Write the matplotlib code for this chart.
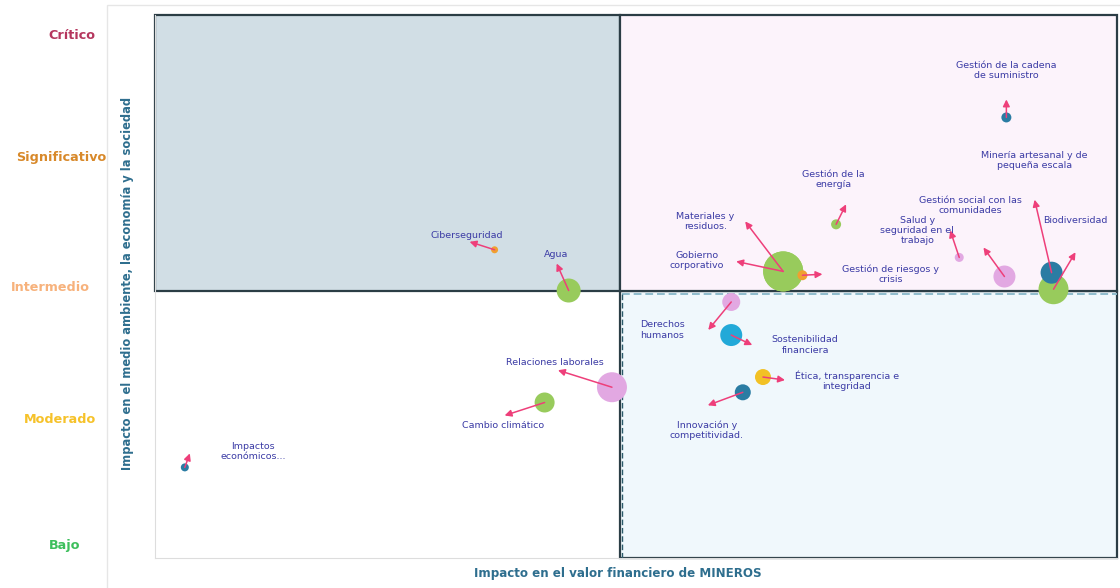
import numpy as np
import matplotlib.pyplot as plt
from matplotlib.patches import Rectangle
from matplotlib.transforms import blended_transform_factory

# materiality matrix data
temas = ['Impactos\neconómicos...', 'Ciberseguridad', 'Agua', 'Relaciones laborales',
         'Cambio climático', 'Derechos\nhumanos', 'Sostenibilidad\nfinanciera',
         'Ética, transparencia e\nintegridad', 'Innovación y\ncompetitividad.',
         'Materiales y\nresiduos.', 'Gobierno\ncorporativo', 'Gestión de riesgos y\ncrisis',
         'Gestión de la\nenergía', 'Salud y\nseguridad en el\ntrabajo',
         'Gestión social con las\ncomunidades', 'Minería artesanal y de\npequeña escala',
         'Biodiversidad', 'Gestión de la cadena\nde suministro']
impacto_financiero = [0.31, 3.53, 4.30, 4.75, 4.05, 5.99, 5.99, 6.32, 6.11,
                      6.53, 6.53, 6.73, 7.08, 8.36, 8.83, 9.32, 9.34, 8.85]
impacto_esg = [1.61, 3.32, 3.00, 2.24, 2.12, 2.91, 2.65, 2.32, 2.20,
               3.15, 3.15, 3.12, 3.52, 3.26, 3.11, 3.14, 3.01, 4.36]
grupo = ['azul_osc', 'naranja', 'verde', 'rosa', 'verde', 'rosa', 'azul', 'amarillo',
         'azul_osc', 'verde', 'verde', 'naranja', 'verde', 'rosa', 'rosa', 'azul_osc',
         'verde', 'azul_osc']
radio = [4, 3.5, 12, 15, 10, 9, 11, 8, 8, 20, 20, 5, 5, 4.5, 11, 11, 15, 5]

niveles = [1, 2, 3, 4, 5]
nombres_nivel = ['Bajo', 'Moderado', 'Intermedio', 'Significativo', 'Crítico']
colores_nivel = ['#3dbf5c', '#f6c22a', '#f7b27c', '#d8892a', '#b5365e']

div_x, div_y = 4.83, 3.0

colores = {'azul_osc': '#2a7ca3', 'naranja': '#f0a030', 'verde': '#98cb5c',
           'rosa': '#e2a8e2', 'azul': '#22a9d8', 'amarillo': '#f2c125'}

# layout tweaks: level label placement (px), arrow tips and label centres (px from dot)
nivel_dy = [0, -2, 3, 6, 0]
nivel_xc = [65, 60, 50, 61, 72]
flecha = [(5, -14), (-25, -8), (-12, -27), (-54, -17), (-40, 13), (-23, 28), (21, 10),
          (22, 3), (-35, 13), (-38, -50), (-47, -10), (20, -1), (10, -20), (-9, -27),
          (-21, -29), (-17, -73), (22, -37), (0, -18)]
etiqueta = [(68, -16), (-28, -14), (-13, -36), (-57, -25), (-42, 23), (-69, 28), (74, 10),
            (84, 4), (-36, 38), (-78, -50), (-86, -11), (88, -1), (-3, -45), (-42, -27),
            (-34, -71), (-17, -112), (22, -69), (0, -47)]

fig = plt.figure(figsize=(11.2, 5.88), dpi=100)
ax = fig.add_axes([155 / 1120, 30 / 588, 962 / 1120, 543 / 588])
ax.set_xlim(0, 10)
ax.set_ylim(0.898, 5.165)

# outer light frame
fig.patches.append(Rectangle((107 / 1120, -0.1), 1.0, 1 - 5 / 588 + 0.1,
                             transform=fig.transFigure, fill=False,
                             edgecolor='#e6e6e6', lw=1))

x0, x1 = ax.get_xlim()
y0, y1 = ax.get_ylim()
borde = '#2b3d45'
ax.add_patch(Rectangle((x0, div_y), div_x - x0, y1 - div_y, facecolor='#d1dee5',
                       edgecolor=borde, lw=1.6, clip_on=False, zorder=1))
ax.add_patch(Rectangle((div_x, div_y), x1 - div_x, y1 - div_y, facecolor='#fcf3fb',
                       edgecolor=borde, lw=1.6, clip_on=False, zorder=1))
ax.add_patch(Rectangle((div_x, y0), x1 - div_x, div_y - y0, facecolor='#f0f8fc',
                       edgecolor=borde, lw=1.6, clip_on=False, zorder=0.9))
ax.plot([div_x + 0.02, x1], [div_y - 0.03, div_y - 0.03], color='#8fbccc', lw=1.4,
        ls=(0, (4, 2)), zorder=1.5, clip_on=False)
ax.plot([div_x + 0.02, div_x + 0.02], [y0, div_y - 0.03], color='#2b5a6a', lw=1.0,
        ls=(0, (4, 2)), zorder=1.5, clip_on=False)

# bubbles, big first
orden = np.argsort(radio)[::-1]
for i in orden:
    s = (2 * radio[i] * 0.72) ** 2
    ax.scatter(impacto_financiero[i], impacto_esg[i], s=s, color=colores[grupo[i]],
               edgecolors='none', zorder=3)

for i, t in enumerate(temas):
    xy = (impacto_financiero[i], impacto_esg[i])
    dx, dy = flecha[i]
    ax.annotate('', xy=xy, xytext=(dx, -dy), textcoords='offset pixels',
                arrowprops=dict(arrowstyle='<|-,head_length=0.4,head_width=0.2',
                                color='#ee3f7a', lw=1.1, shrinkA=0, shrinkB=0),
                zorder=4)
    lx, ly = etiqueta[i]
    ax.annotate(t, xy=xy, xytext=(lx, -ly), textcoords='offset pixels',
                ha='center', va='center', fontsize=6.8, color='#3b3ba5',
                linespacing=1.2, zorder=5)

ax.set_xticks([])
ax.set_yticks([])
trans = blended_transform_factory(fig.transFigure, ax.transData)
for lvl, nombre, c, xc, dy in zip(niveles, nombres_nivel, colores_nivel, nivel_xc, nivel_dy):
    ax.annotate(nombre, xy=(xc / 1120, lvl), xycoords=trans,
                xytext=(0, dy), textcoords='offset pixels',
                ha='center', va='center', color=c, fontweight='bold',
                fontsize=9.2, annotation_clip=False)

for side in ['top', 'right']:
    ax.spines[side].set_visible(False)
for side in ['left', 'bottom']:
    ax.spines[side].set_color('#dddddd')

fig.text(127 / 1120, 1 - 283 / 588, 'Impacto en el medio ambiente, la economía y la sociedad',
         rotation=90, ha='center', va='center', fontsize=8.3, fontweight='bold',
         color='#2e6e8e')
fig.text(618 / 1120, 1 - 574 / 588, 'Impacto en el valor financiero de MINEROS',
         ha='center', va='center', fontsize=8.6, fontweight='bold', color='#2e6e8e')

fig.savefig('out.png', dpi=100, facecolor='white')
